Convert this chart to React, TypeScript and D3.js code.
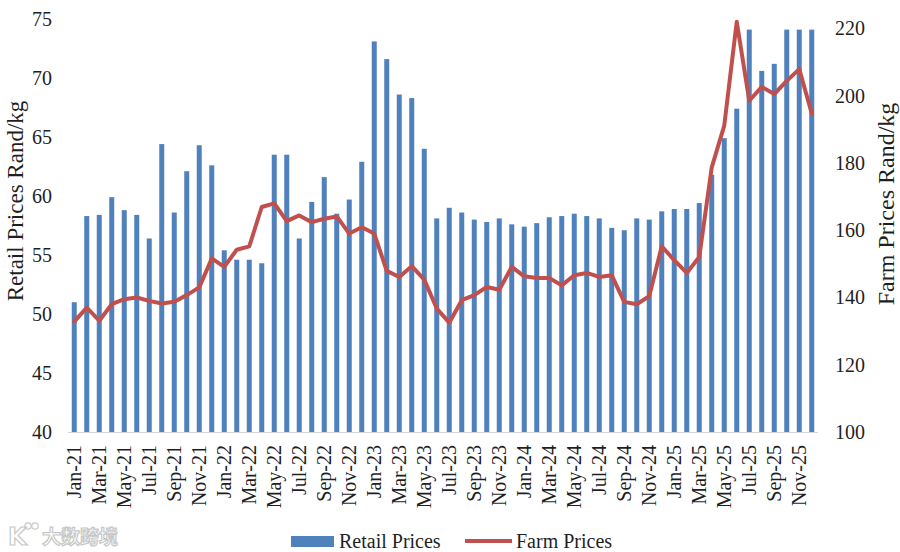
import React from 'react';
import * as d3 from 'd3';

const months = [
  'Jan-21', 'Feb-21', 'Mar-21', 'Apr-21', 'May-21', 'Jun-21', 'Jul-21', 'Aug-21', 'Sep-21', 'Oct-21', 'Nov-21', 'Dec-21',
  'Jan-22', 'Feb-22', 'Mar-22', 'Apr-22', 'May-22', 'Jun-22', 'Jul-22', 'Aug-22', 'Sep-22', 'Oct-22', 'Nov-22', 'Dec-22',
  'Jan-23', 'Feb-23', 'Mar-23', 'Apr-23', 'May-23', 'Jun-23', 'Jul-23', 'Aug-23', 'Sep-23', 'Oct-23', 'Nov-23', 'Dec-23',
  'Jan-24', 'Feb-24', 'Mar-24', 'Apr-24', 'May-24', 'Jun-24', 'Jul-24', 'Aug-24', 'Sep-24', 'Oct-24', 'Nov-24', 'Dec-24',
  'Jan-25', 'Feb-25', 'Mar-25', 'Apr-25', 'May-25', 'Jun-25', 'Jul-25', 'Aug-25', 'Sep-25', 'Oct-25', 'Nov-25', 'Dec-25',
];

// retail prices, Rand/kg
const retail = [
  51.0, 58.3, 58.4, 59.9, 58.8, 58.4, 56.4, 64.4, 58.6, 62.1, 64.3, 62.6,
  55.4, 54.6, 54.6, 54.3, 63.5, 63.5, 56.4, 59.5, 61.6, 58.5, 59.7, 62.9,
  73.1, 71.6, 68.6, 68.3, 64.0, 58.1, 59.0, 58.6, 58.0, 57.8, 58.1, 57.6,
  57.4, 57.7, 58.2, 58.3, 58.5, 58.3, 58.1, 57.3, 57.1, 58.1, 58.0, 58.7,
  58.9, 58.9, 59.4, 61.8, 64.9, 67.4, 74.1, 70.6, 71.2, 74.1, 74.1, 74.1,
];

// farm prices, Rand/kg
const farm = [
  132.8, 137.0, 133.1, 138.0, 139.5, 140.0, 139.0, 138.2, 138.7, 140.7, 143.0, 151.6,
  149.1, 154.2, 155.2, 166.9, 168.0, 162.7, 164.4, 162.4, 163.4, 164.1, 159.0, 160.9,
  159.0, 147.9, 146.1, 149.3, 145.3, 136.7, 132.5, 139.2, 140.7, 143.1, 142.3, 149.1,
  146.3, 145.8, 145.8, 143.6, 146.6, 147.3, 146.1, 146.6, 138.7, 138.0, 140.4, 155.2,
  151.1, 147.3, 152.0, 178.7, 191.1, 222.0, 198.5, 202.6, 200.5, 204.4, 207.9, 194.7,
];

const retailTicks = [40, 45, 50, 55, 60, 65, 70, 75];
const farmTicks = [100, 120, 140, 160, 180, 200, 220];

const W = 900;
const H = 552;
const plotLeft = 68;
const plotRight = 818;
const plotTop = 19;
const plotBottom = 432;

const BLUE = '#4F81BD';
const RED = '#C0504D';
const INK = '#1f1f1f';
const FONT = '"Liberation Serif", "Times New Roman", serif';

export default function App() {
  const x = d3
    .scaleBand<string>()
    .domain(months)
    .range([plotLeft, plotRight])
    .paddingInner(0.6)
    .paddingOuter(0.3);

  const yRetail = d3.scaleLinear().domain([40, 75]).range([plotBottom, plotTop]);
  // right axis runs a little past its last label, to the top of the plot
  const yFarm = d3.scaleLinear().domain([100, 222.8]).range([plotBottom, plotTop]);

  const cx = (m: string) => (x(m) ?? 0) + x.bandwidth() / 2;

  const farmLine = d3
    .line<number>()
    .x((_, i) => cx(months[i]))
    .y((d) => yFarm(d));

  return (
    <svg
      width={W}
      height={H}
      viewBox={`0 0 ${W} ${H}`}
      style={{ display: 'block', position: 'absolute', left: 0, top: 0, background: '#fff' }}
      fontFamily={FONT}
    >
      <rect width={W} height={H} fill="#fff" />

      {/* bars */}
      {retail.map((v, i) => (
        <rect
          key={months[i]}
          x={x(months[i])}
          y={yRetail(v)}
          width={x.bandwidth()}
          height={plotBottom - yRetail(v)}
          fill={BLUE}
        />
      ))}

      {/* baseline */}
      <line x1={plotLeft} x2={plotRight} y1={plotBottom + 0.5} y2={plotBottom + 0.5} stroke="#d4d4d4" strokeWidth={1} />

      {/* farm price line */}
      <path
        d={farmLine(farm) ?? ''}
        fill="none"
        stroke={RED}
        strokeWidth={4}
        strokeLinejoin="round"
        strokeLinecap="round"
      />

      {/* left axis */}
      {retailTicks.map((t) => (
        <text key={t} x={52} y={yRetail(t)} dy="0.35em" textAnchor="end" fontSize={20} fill={INK}>
          {t}
        </text>
      ))}
      <text
        transform="translate(15, 201) rotate(-90)"
        textAnchor="middle"
        dy="0.35em"
        fontSize={23}
        fill={INK}
      >
        Retail Prices Rand/kg
      </text>

      {/* right axis */}
      {farmTicks.map((t) => (
        <text key={t} x={835} y={yFarm(t)} dy="0.35em" textAnchor="start" fontSize={20} fill={INK}>
          {t}
        </text>
      ))}
      <text
        transform="translate(886, 204) rotate(-90)"
        textAnchor="middle"
        dy="0.35em"
        fontSize={24}
        fill={INK}
      >
        Farm Prices Rand/kg
      </text>

      {/* month labels, every other month */}
      {months
        .filter((_, i) => i % 2 === 0)
        .map((m) => (
          <text
            key={m}
            transform={`translate(${cx(m)}, 445) rotate(-90)`}
            textAnchor="end"
            dy="0.35em"
            fontSize={20}
            fill={INK}
          >
            {m}
          </text>
        ))}

      {/* legend */}
      <rect x={291} y={536} width={43} height={11} fill={BLUE} />
      <text x={339} y={548} fontSize={20} fill={INK}>
        Retail Prices
      </text>
      <line x1={465} x2={512} y1={541} y2={541} stroke={RED} strokeWidth={4} />
      <text x={516} y={548} fontSize={20} fill={INK}>
        Farm Prices
      </text>

      {/* watermark */}
      <g opacity={0.55} fill="#fff" stroke="#9a9a9a" strokeWidth={1.2}>
        <text x={8} y={545} fontFamily="DejaVu Sans" fontSize={24} fontWeight="bold">
          K
        </text>
        <circle cx={28} cy={526} r={3.2} fill="none" />
        <circle cx={35} cy={526} r={3.2} fill="none" />
        <text x={42} y={544} fontFamily='"Noto Sans CJK SC"' fontSize={19} fontWeight="bold">
          大数跨境
        </text>
      </g>
    </svg>
  );
}
